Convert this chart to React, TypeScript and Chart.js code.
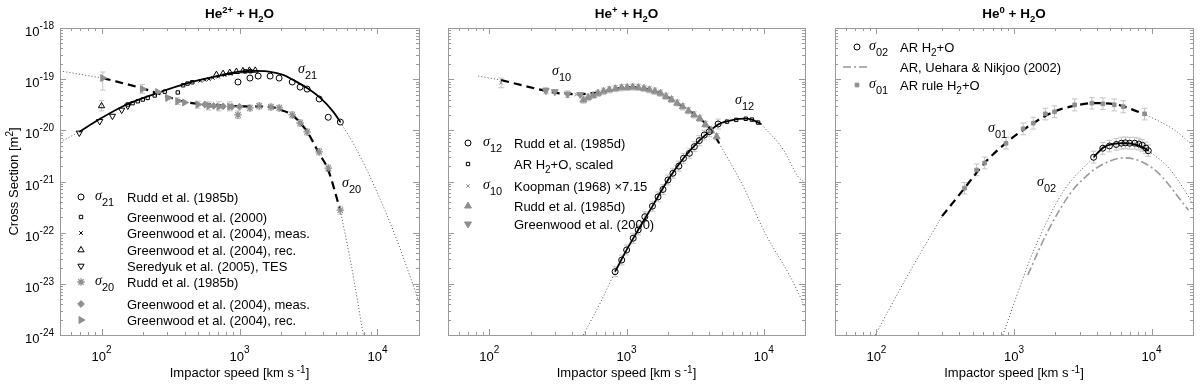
import React, { useEffect, useRef } from 'react';
import { Chart, registerables } from 'chart.js';
import { drawPoint } from 'chart.js/helpers';

Chart.register(...registerables);

type P = [number, number];
type E = [number, number, number];

// ---------------- axes ----------------
const X_MIN = 50;
const X_MAX = 20000;
const Y_MIN = 1e-24;
const Y_MAX = 1e-18;
const xDecades = [100, 1000, 10000];
const xDecadeExp = ['2', '3', '4'];
const yDecades = [1e-18, 1e-19, 1e-20, 1e-21, 1e-22, 1e-23, 1e-24];
const yDecadeExp = ['-18', '-19', '-20', '-21', '-22', '-23', '-24'];
const minorMult = [2, 3, 4, 5, 6, 7, 8, 9];

// ---------------- panel 1 : He2+ + H2O ----------------
const p1S21Fit: P[] = [[69, 9.3e-21], [97, 1.66e-20], [152, 3.2e-20], [255, 5.4e-20], [420, 8.4e-20], [663, 1.12e-19], [1000, 1.4e-19], [1300, 1.45e-19], [1585, 1.42e-19], [2075, 1.21e-19], [2460, 9.6e-20], [3090, 6.7e-20], [3850, 4.3e-20], [4790, 2.3e-20], [5380, 1.45e-20]];
const p1S21DotL: P[] = [[50, 5.9e-21], [69, 9.3e-21]];
const p1S21DotR: P[] = [[5380, 1.45e-20], [7000, 4.4e-21], [9500, 8.1e-22], [13500, 8.5e-23], [20000, 4.5e-24]];
const p1S20Fit: P[] = [[102, 1.05e-19], [198, 6.6e-20], [255, 5.3e-20], [400, 3.6e-20], [663, 3.15e-20], [1045, 2.95e-20], [1300, 2.95e-20], [1730, 2.85e-20], [2000, 2.5e-20], [2400, 2.0e-20], [3100, 9.3e-21], [3720, 3.8e-21], [4400, 1.66e-21], [5380, 2.7e-22]];
const p1S20DotL: P[] = [[50, 1.45e-19], [102, 1.05e-19]];
const p1S20DotR: P[] = [[5380, 2.7e-22], [6500, 2.1e-23], [7900, 1e-24]];

const p1Rudd21: P[] = [[975, 8.8e-20], [1190, 1.05e-19], [1365, 1.15e-19], [1667, 1.15e-19], [1938, 1.05e-19], [2410, 8.8e-20], [2750, 7.0e-20], [3090, 6.4e-20], [3780, 4.1e-20], [4400, 1.8e-20], [5380, 1.45e-20]];
const p1Gw2000: P[] = [[155, 3.2e-20], [168, 3.4e-20], [183, 3.7e-20], [199, 4.0e-20], [216, 4.3e-20], [243, 4.8e-20], [287, 5.7e-20], [357, 5.5e-20], [390, 7.6e-20], [420, 8.2e-20], [455, 8.7e-20], [1100, 1.42e-19], [1200, 1.43e-19]];
const p1Gw2004Meas: P[] = [[520, 9.3e-20], [560, 9.7e-20], [600, 1.01e-19], [640, 1.06e-19], [700, 1.12e-19], [780, 1.2e-19], [860, 1.27e-19]];
const p1Gw2004Rec: P[] = [[100, 3.0e-20], [680, 1.22e-19], [760, 1.28e-19], [850, 1.34e-19], [950, 1.4e-19], [1060, 1.45e-19], [1180, 1.48e-19], [1300, 1.48e-19]];
const p1SeredyukTES: P[] = [[69, 8.9e-21], [97, 1.5e-20], [120, 1.9e-20], [140, 2.5e-20], [155, 3.0e-20]];
const p1Rudd20: P[] = [[975, 2.0e-20], [1190, 2.74e-20], [1390, 3.0e-20], [1690, 2.86e-20], [1940, 2.74e-20], [2410, 2.0e-20], [2750, 1.39e-20], [3090, 9.3e-21], [3780, 3.8e-21], [4400, 1.83e-21], [5380, 2.75e-22]];
const p1Gw2004Meas20: P[] = [[560, 3.2e-20], [650, 3.0e-20], [760, 2.95e-20], [880, 2.9e-20], [1000, 2.9e-20]];
const p1Gw2004Rec20: P[] = [[102, 1.05e-19], [198, 6.4e-20], [255, 5.6e-20], [302, 4.3e-20], [357, 3.7e-20], [400, 3.5e-20], [500, 3.2e-20], [600, 3.0e-20], [710, 2.9e-20], [850, 2.9e-20]];
const p1Err: E[] = [[100, 2.4e-20, 3.8e-20], [102, 6.1e-20, 1.38e-19], [198, 5.3e-20, 7.9e-20], [357, 3.2e-20, 4.3e-20], [500, 2.7e-20, 3.7e-20], [600, 2.5e-20, 3.6e-20], [710, 2.4e-20, 3.6e-20], [850, 2.4e-20, 3.6e-20], [975, 1.7e-20, 2.4e-20], [1190, 2.4e-20, 3.1e-20], [1390, 2.6e-20, 3.4e-20], [1690, 2.5e-20, 3.25e-20], [1940, 2.4e-20, 3.1e-20], [2410, 1.75e-20, 2.3e-20], [2750, 1.2e-20, 1.6e-20], [3090, 8.1e-21, 1.07e-20], [3780, 3.3e-21, 4.4e-21], [4400, 1.58e-21, 2.1e-21], [5380, 2.3e-22, 3.3e-22]];

// ---------------- panel 2 : He+ + H2O ----------------
const p2S12Fit: P[] = [[826, 1.73e-23], [1002, 4.6e-23], [1216, 1.13e-22], [1546, 3.3e-22], [2005, 1.07e-21], [2601, 2.84e-21], [3394, 6.3e-21], [4008, 9.4e-21], [4654, 1.3e-20], [5400, 1.5e-20], [6600, 1.68e-20], [7400, 1.7e-20], [8200, 1.62e-20], [9100, 1.42e-20], [9600, 1.32e-20]];
const p2S12DotL: P[] = [[485, 1e-24], [645, 4.3e-24], [826, 1.73e-23]];
const p2S12DotR: P[] = [[9600, 1.32e-20], [13900, 4.2e-21], [17800, 1.25e-21], [20000, 9.5e-22]];
const p2S10Fit: P[] = [[122, 9.6e-20], [258, 5.9e-20], [305, 5.4e-20], [460, 5.1e-20], [643, 5.6e-20], [850, 6.5e-20], [1110, 7.0e-20], [1400, 6.5e-20], [1740, 5.4e-20], [2100, 4.1e-20], [2560, 2.9e-20], [3400, 1.74e-20], [4150, 1.02e-20], [4730, 5.6e-21]];
const p2S10DotL: P[] = [[83, 1.15e-19], [122, 9.6e-20]];
const p2S10DotR: P[] = [[4730, 5.6e-21], [6900, 9.3e-22], [10200, 1e-22], [15700, 1.35e-23], [17900, 6.6e-24], [20000, 3.5e-24]];

const p2Rudd12: P[] = [[826, 1.73e-23], [923, 2.92e-23], [1002, 4.59e-23], [1119, 7.8e-23], [1216, 1.13e-22], [1360, 2.05e-22], [1546, 3.3e-22], [1698, 5.0e-22], [1845, 7.0e-22], [2005, 1.07e-21], [2178, 1.45e-21], [2406, 2.0e-21], [2601, 2.84e-21], [2873, 3.56e-21], [3124, 4.8e-21], [3394, 6.3e-21], [3688, 8.1e-21], [4008, 9.4e-21], [4654, 1.33e-20]];
const p2ARScaled: P[] = [[5400, 1.48e-20], [6300, 1.6e-20], [7400, 1.68e-20], [8200, 1.62e-20], [9100, 1.42e-20]];
const p2Koopman: P[] = [[122, 8.5e-20], [260, 5.9e-20], [375, 5.2e-20], [430, 5.0e-20]];
const p2Rudd10: P[] = [[485, 3.9e-20], [525, 4.4e-20], [570, 4.8e-20], [620, 5.3e-20], [680, 5.8e-20], [750, 6.2e-20], [830, 6.5e-20], [920, 6.8e-20], [1010, 6.9e-20], [1110, 7.0e-20], [1220, 6.9e-20], [1340, 6.6e-20], [1470, 6.2e-20], [1610, 5.8e-20], [1770, 5.3e-20], [1940, 4.6e-20], [2130, 4.0e-20], [2340, 3.4e-20], [2570, 2.9e-20], [2830, 2.4e-20], [3110, 2.0e-20], [3420, 1.7e-20], [3760, 1.3e-20], [4130, 1.0e-20], [4540, 7.5e-21]];
const p2Gw2000: P[] = [[258, 6.0e-20], [300, 5.7e-20], [372, 5.1e-20], [460, 5.0e-20]];
const p2Err: E[] = [[826, 1.38e-23, 2.16e-23], [923, 2.34e-23, 3.65e-23], [1002, 3.67e-23, 5.74e-23], [1119, 6.2e-23, 9.75e-23], [1216, 9.0e-23, 1.41e-22], [1360, 1.64e-22, 2.56e-22], [1546, 2.64e-22, 4.1e-22], [1698, 4.0e-22, 6.25e-22], [1845, 5.6e-22, 8.75e-22], [2005, 8.6e-22, 1.34e-21], [2178, 1.16e-21, 1.81e-21], [2406, 1.6e-21, 2.5e-21], [2601, 2.27e-21, 3.55e-21], [2873, 2.85e-21, 4.45e-21], [3124, 3.84e-21, 6.0e-21], [3394, 5.0e-21, 7.9e-21], [3688, 6.5e-21, 1.01e-20], [4008, 7.5e-21, 1.18e-20], [4654, 1.06e-20, 1.66e-20],
  [122, 6.8e-20, 1.05e-19], [258, 5.2e-20, 6.9e-20], [372, 4.4e-20, 5.9e-20],
  [485, 3.4e-20, 4.5e-20], [525, 3.8e-20, 5.1e-20], [570, 4.2e-20, 5.5e-20], [620, 4.6e-20, 6.1e-20], [680, 5.0e-20, 6.7e-20], [750, 5.4e-20, 7.1e-20], [830, 5.7e-20, 7.5e-20], [920, 5.9e-20, 7.8e-20], [1010, 6.0e-20, 7.9e-20], [1110, 6.1e-20, 8.0e-20], [1220, 6.0e-20, 7.9e-20], [1340, 5.7e-20, 7.6e-20], [1470, 5.4e-20, 7.1e-20], [1610, 5.0e-20, 6.7e-20], [1770, 4.6e-20, 6.1e-20], [1940, 4.0e-20, 5.3e-20], [2130, 3.5e-20, 4.6e-20], [2340, 3.0e-20, 3.9e-20], [2570, 2.5e-20, 3.3e-20], [2830, 2.1e-20, 2.8e-20], [3110, 1.74e-20, 2.3e-20], [3420, 1.48e-20, 1.96e-20], [3760, 1.13e-20, 1.5e-20], [4130, 8.7e-21, 1.15e-20], [4540, 6.5e-21, 8.6e-21]];

// ---------------- panel 3 : He0 + H2O ----------------
const p3S01Fit: P[] = [[300, 2.1e-22], [437, 7.4e-22], [612, 2.3e-21], [890, 5.9e-21], [1380, 1.38e-20], [1937, 2.3e-20], [2717, 3.0e-20], [3740, 3.4e-20], [5350, 3.25e-20], [9180, 2.0e-20]];
const p3S01DotL: P[] = [[98, 1e-24], [172, 1.6e-23], [300, 2.1e-22]];
const p3S01DotR: P[] = [[9180, 2.0e-20], [14800, 1.0e-20], [20000, 5e-21]];
const p3S02Fit: P[] = [[3800, 3.0e-21], [4510, 4.7e-21], [6300, 5.6e-21], [8000, 5.1e-21], [9500, 4.0e-21]];
const p3S02DotL: P[] = [[830, 1e-24], [1165, 1.3e-23], [1380, 4.3e-23], [2290, 6.5e-22], [3800, 3.0e-21]];
const p3S02DotR: P[] = [[9500, 4.0e-21], [13300, 1.85e-21], [18600, 5.0e-22], [20000, 3.5e-22]];
const p3Uehara: P[] = [[1260, 1.5e-23], [1740, 1.0e-22], [2570, 5.9e-22], [3220, 1.15e-21], [4060, 1.9e-21], [6300, 2.9e-21], [10500, 1.7e-21], [18600, 2.75e-22]];
const p3ARRule01: P[] = [[437, 7.4e-22], [535, 1.68e-21], [612, 2.3e-21], [875, 5.6e-21], [1165, 1.07e-20], [1380, 1.38e-20], [1690, 2.1e-20], [1970, 2.3e-20], [2760, 3.15e-20], [3680, 3.4e-20], [4430, 3.3e-20], [5350, 3.15e-20], [6220, 2.9e-20], [8890, 2.1e-20]];
const p3AR02: P[] = [[3790, 2.97e-21], [4420, 4.47e-21], [4940, 4.95e-21], [5540, 5.3e-21], [6030, 5.6e-21], [6450, 5.7e-21], [6930, 5.6e-21], [7540, 5.6e-21], [8070, 5.4e-21], [8550, 5.1e-21], [9080, 4.5e-21], [9460, 4.0e-21]];
const p3Err: E[] = [[437, 5.7e-22, 9.6e-22], [535, 1.3e-21, 2.2e-21], [612, 1.77e-21, 3.0e-21], [875, 4.3e-21, 7.3e-21], [1165, 8.2e-21, 1.39e-20], [1380, 1.06e-20, 1.8e-20], [1690, 1.6e-20, 2.7e-20], [1970, 1.77e-20, 3.0e-20], [2760, 2.4e-20, 4.1e-20], [3680, 2.6e-20, 4.4e-20], [4430, 2.55e-20, 4.3e-20], [5350, 2.4e-20, 4.1e-20], [6220, 2.2e-20, 3.8e-20], [8890, 1.6e-20, 2.7e-20],
  [3790, 2.3e-21, 3.9e-21], [4420, 3.4e-21, 5.8e-21], [4940, 3.8e-21, 6.4e-21], [5540, 4.1e-21, 6.9e-21], [6030, 4.3e-21, 7.3e-21], [6450, 4.4e-21, 7.4e-21], [6930, 4.3e-21, 7.3e-21], [7540, 4.3e-21, 7.3e-21], [8070, 4.15e-21, 7.0e-21], [8550, 3.9e-21, 6.6e-21], [9080, 3.5e-21, 5.9e-21], [9460, 3.1e-21, 5.2e-21]];

// ---------------- styling helpers ----------------
const SANS = '"Liberation Sans", Arial, Helvetica, sans-serif';
const SERIF = '"Liberation Serif", "DejaVu Serif", serif';
const GRAY = '#8f8f8f';
const ERR = '#c4c4c4';
const DOT = '#555555';

const toXY = (a: P[]) => a.map(([x, y]) => ({ x, y }));
const toErr = (a: E[]) => a.flatMap(([x, lo, hi]) => [{ x, y: lo }, { x, y: hi }, { x, y: null as any }]);

type Mk = { style: string; r: number; fill: string; stroke: string; rot?: number; bw?: number };
const mkOpenCircle: Mk = { style: 'circle', r: 3, fill: 'rgba(0,0,0,0)', stroke: '#000', bw: 1 };
const mkOpenSquare: Mk = { style: 'rect', r: 2.4, fill: 'rgba(0,0,0,0)', stroke: '#000', bw: 1 };
const mkX: Mk = { style: 'crossRot', r: 2.5, fill: '#000', stroke: '#000', bw: 1 };
const mkTriUp: Mk = { style: 'triangle', r: 3.6, fill: 'rgba(0,0,0,0)', stroke: '#000', bw: 1 };
const mkTriDown: Mk = { style: 'triangle', r: 3.6, fill: 'rgba(0,0,0,0)', stroke: '#000', bw: 1, rot: 180 };
const mkGrayStar: Mk = { style: 'star', r: 3.8, fill: GRAY, stroke: GRAY, bw: 1.3 };
const mkGrayDiamond: Mk = { style: 'rectRot', r: 3.4, fill: GRAY, stroke: GRAY, bw: 1 };
const mkGrayTriRight: Mk = { style: 'triangle', r: 4, fill: GRAY, stroke: GRAY, bw: 1, rot: 90 };
const mkGrayTriUp: Mk = { style: 'triangle', r: 4, fill: GRAY, stroke: GRAY, bw: 1 };
const mkGrayTriDown: Mk = { style: 'triangle', r: 4, fill: GRAY, stroke: GRAY, bw: 1, rot: 180 };
const mkGrayX: Mk = { style: 'crossRot', r: 2.5, fill: GRAY, stroke: GRAY, bw: 1 };
const mkGraySquare: Mk = { style: 'rect', r: 2.6, fill: GRAY, stroke: GRAY, bw: 1 };

const markers = (data: P[], m: Mk) => ({
  data: toXY(data), showLine: false, order: 0,
  pointStyle: m.style, pointRadius: m.r, pointHoverRadius: m.r, pointRotation: m.rot || 0,
  pointBackgroundColor: m.fill, pointBorderColor: m.stroke, pointBorderWidth: m.bw ?? 1,
});
const curve = (data: P[], color: string, width: number, dash: number[]) => ({
  data: toXY(data), showLine: true, pointRadius: 0, pointHoverRadius: 0, borderColor: color,
  borderWidth: width, borderDash: dash, cubicInterpolationMode: 'monotone', fill: false, order: 1,
});
const errorBars = (data: E[]) => ({
  data: toErr(data), showLine: true, spanGaps: false, borderColor: ERR, borderWidth: 1, order: 2,
  pointStyle: 'line', pointRadius: 2.8, pointHoverRadius: 2.8, pointBorderColor: ERR, pointBorderWidth: 1,
});
const SOLID = (d: P[]) => curve(d, '#000', 1.8, []);
const DASHED = (d: P[]) => curve(d, '#000', 2.2, [8, 5]);
const DOTTED = (d: P[]) => curve(d, DOT, 1, [1, 2.2]);

// ---------------- rich text ----------------
type RSeg = { t: string; font: string; dy: number };
const N = (t: string, size = 13, bold = false): RSeg => ({ t, font: `${bold ? 'bold ' : ''}${size}px ${SANS}`, dy: 0 });
const SUP = (t: string, size = 10, dy = -6, bold = false): RSeg => ({ t, font: `${bold ? 'bold ' : ''}${size}px ${SANS}`, dy });
const SUB = (t: string, size = 10, dy = 4, bold = false): RSeg => ({ t, font: `${bold ? 'bold ' : ''}${size}px ${SANS}`, dy });
const SIG = (dy = 0, size = 14): RSeg => ({ t: 'σ', font: `italic ${size}px ${SERIF}`, dy });

function rich(ctx: CanvasRenderingContext2D, segs: RSeg[], x: number, y: number, align: 'left' | 'center' | 'right') {
  let w = 0;
  for (const s of segs) { ctx.font = s.font; w += ctx.measureText(s.t).width; }
  let cx = align === 'left' ? x : align === 'center' ? x - w / 2 : x - w;
  ctx.textAlign = 'left';
  ctx.textBaseline = 'alphabetic';
  for (const s of segs) {
    ctx.font = s.font;
    ctx.fillText(s.t, cx, y + s.dy);
    cx += ctx.measureText(s.t).width;
  }
}

type LegendItem = { y: number; mk?: Mk; dashDot?: boolean; sig?: string; text: RSeg[] };
type PanelDef = {
  left: number; right: number;
  title: RSeg[];
  yLabels: boolean;
  legend: LegendItem[];
  legendX: { mk: number; sig: number; text: number };
  notes: { x: number; y: number; sub: string }[];
  datasets: any[];
};

const TOP = 28;
const BOTTOM = 335;

const titleSegs = (ion: string) => [N('He', 13.5, true), SUP(ion, 9.5, -5, true), N(' + H', 13.5, true), SUB('2', 9.5, 3.5, true), N('O', 13.5, true)];
const H2O = (pre: string, post: string) => [N(pre), SUB('2', 10, 4), N(post)];

const panels: PanelDef[] = [
  {
    left: 60, right: 419, title: titleSegs('2+'), yLabels: true,
    legendX: { mk: 81, sig: 95, text: 127 },
    legend: [
      { y: 197, mk: mkOpenCircle, sig: '21', text: [N('Rudd et al. (1985b)')] },
      { y: 217, mk: mkOpenSquare, text: [N('Greenwood et al. (2000)')] },
      { y: 233, mk: mkX, text: [N('Greenwood et al. (2004), meas.')] },
      { y: 250, mk: mkTriUp, text: [N('Greenwood et al. (2004), rec.')] },
      { y: 266, mk: mkTriDown, text: [N('Seredyuk et al. (2005), TES')] },
      { y: 282, mk: mkGrayStar, sig: '20', text: [N('Rudd et al. (1985b)')] },
      { y: 304, mk: mkGrayDiamond, text: [N('Greenwood et al. (2004), meas.')] },
      { y: 320, mk: mkGrayTriRight, text: [N('Greenwood et al. (2004), rec.')] },
    ],
    notes: [{ x: 298, y: 73, sub: '21' }, { x: 342, y: 187, sub: '20' }],
    datasets: [
      markers(p1Rudd21, mkOpenCircle), markers(p1Gw2000, mkOpenSquare), markers(p1Gw2004Meas, mkX),
      markers(p1Gw2004Rec, mkTriUp), markers(p1SeredyukTES, mkTriDown), markers(p1Rudd20, mkGrayStar),
      markers(p1Gw2004Meas20, mkGrayDiamond), markers(p1Gw2004Rec20, mkGrayTriRight),
      SOLID(p1S21Fit), DASHED(p1S20Fit), DOTTED(p1S21DotL), DOTTED(p1S21DotR), DOTTED(p1S20DotL), DOTTED(p1S20DotR),
      errorBars(p1Err),
    ],
  },
  {
    left: 448, right: 805, title: titleSegs('+'), yLabels: false,
    legendX: { mk: 468, sig: 483, text: 514 },
    legend: [
      { y: 143, mk: mkOpenCircle, sig: '12', text: [N('Rudd et al. (1985d)')] },
      { y: 164, mk: mkOpenSquare, text: H2O('AR H', '+O, scaled') },
      { y: 186, mk: mkGrayX, sig: '10', text: [N('Koopman (1968) ×7.15')] },
      { y: 206, mk: mkGrayTriUp, text: [N('Rudd et al. (1985d)')] },
      { y: 224, mk: mkGrayTriDown, text: [N('Greenwood et al. (2000)')] },
    ],
    notes: [{ x: 552, y: 75, sub: '10' }, { x: 735, y: 104, sub: '12' }],
    datasets: [
      markers(p2Rudd12, mkOpenCircle), markers(p2ARScaled, mkOpenSquare), markers(p2Koopman, mkGrayX),
      markers(p2Rudd10, mkGrayTriUp), markers(p2Gw2000, mkGrayTriDown),
      SOLID(p2S12Fit), DASHED(p2S10Fit), DOTTED(p2S12DotL), DOTTED(p2S12DotR), DOTTED(p2S10DotL), DOTTED(p2S10DotR),
      errorBars(p2Err),
    ],
  },
  {
    left: 835, right: 1193, title: titleSegs('0'), yLabels: false,
    legendX: { mk: 857, sig: 869, text: 900 },
    legend: [
      { y: 47, mk: mkOpenCircle, sig: '02', text: H2O('AR H', '+O') },
      { y: 67, dashDot: true, text: [N('AR, Uehara & Nikjoo (2002)')] },
      { y: 85, mk: mkGraySquare, sig: '01', text: H2O('AR rule H', '+O') },
    ],
    notes: [{ x: 988, y: 132, sub: '01' }, { x: 1037, y: 186, sub: '02' }],
    datasets: [
      markers(p3AR02, mkOpenCircle), markers(p3ARRule01, mkGraySquare),
      SOLID(p3S02Fit), DASHED(p3S01Fit), curve(p3Uehara, '#9a9a9a', 1.6, [8, 3, 2, 3]),
      DOTTED(p3S01DotL), DOTTED(p3S01DotR), DOTTED(p3S02DotL), DOTTED(p3S02DotR),
      errorBars(p3Err),
    ],
  },
];

function decorPlugin(p: PanelDef) {
  return {
    id: 'decor',
    afterDraw(chart: any) {
      const ctx = chart.ctx as CanvasRenderingContext2D;
      const { left, right, top, bottom } = chart.chartArea;
      const xs = chart.scales.x;
      const ys = chart.scales.y;
      ctx.save();
      ctx.strokeStyle = '#9a9a9a';
      ctx.lineWidth = 1;
      ctx.beginPath();
      for (let e = 1; e <= 4; e++) {
        for (const m of [1, ...minorMult]) {
          const v = Number(`${m}e${e}`);
          if (v < X_MIN * 0.999 || v > X_MAX * 1.001) continue;
          const px = Math.round(xs.getPixelForValue(v)) + 0.5;
          const len = m === 1 ? 6 : 3;
          ctx.moveTo(px, bottom); ctx.lineTo(px, bottom - len);
          ctx.moveTo(px, top); ctx.lineTo(px, top + len);
        }
      }
      for (let e = -24; e <= -18; e++) {
        for (const m of [1, ...minorMult]) {
          const v = Number(`${m}e${e}`);
          if (v < Y_MIN * 0.999 || v > Y_MAX * 1.001) continue;
          const py = Math.round(ys.getPixelForValue(v)) + 0.5;
          const len = m === 1 ? 6 : 3;
          ctx.moveTo(left, py); ctx.lineTo(left + len, py);
          ctx.moveTo(right, py); ctx.lineTo(right - len, py);
        }
      }
      ctx.stroke();
      ctx.strokeRect(left + 0.5, top + 0.5, right - left, bottom - top);

      ctx.fillStyle = '#000';
      // x tick labels
      xDecades.forEach((v, i) => {
        const px = xs.getPixelForValue(v);
        rich(ctx, [N('10'), SUP(xDecadeExp[i], 10, -7.5)], px, 360.5, 'center');
      });
      if (p.yLabels) {
        yDecades.forEach((v, i) => {
          const py = ys.getPixelForValue(v);
          rich(ctx, [N('10'), SUP(yDecadeExp[i], 10, -7)], 54, py + 8, 'right');
        });
        ctx.save();
        ctx.translate(18, (top + bottom) / 2);
        ctx.rotate(-Math.PI / 2);
        rich(ctx, [N('Cross Section [m'), SUP('2', 10, -5), N(']')], 0, 0, 'center');
        ctx.restore();
      }
      // x title
      rich(ctx, [N('Impactor speed [km s'), SUP(' -1', 10, -4), N(']')], (left + right) / 2, 377, 'center');
      // title
      rich(ctx, p.title, (left + right) / 2, 18, 'center');

      // legend
      for (const it of p.legend) {
        const base = it.y + 4.7;
        if (it.mk) {
          ctx.fillStyle = it.mk.fill;
          ctx.strokeStyle = it.mk.stroke;
          ctx.lineWidth = it.mk.bw ?? 1;
          drawPoint(ctx, { pointStyle: it.mk.style as any, radius: it.mk.r, rotation: it.mk.rot || 0, borderWidth: it.mk.bw ?? 1 } as any, p.legendX.mk, it.y);
        }
        if (it.dashDot) {
          ctx.save();
          ctx.strokeStyle = '#9a9a9a';
          ctx.lineWidth = 1.6;
          ctx.setLineDash([8, 3, 2, 3]);
          ctx.beginPath();
          ctx.moveTo(843, it.y); ctx.lineTo(869, it.y);
          ctx.stroke();
          ctx.restore();
        }
        ctx.fillStyle = '#000';
        if (it.sig) rich(ctx, [SIG(-1.5), SUB(it.sig, 11, 4)], p.legendX.sig, base, 'left');
        rich(ctx, it.text, p.legendX.text, base, 'left');
      }
      // in-plot labels
      for (const n of p.notes) rich(ctx, [SIG(0), SUB(n.sub, 11, 6)], n.x, n.y, 'left');
      ctx.restore();
    },
  };
}

function buildConfig(p: PanelDef): any {
  return {
    type: 'scatter',
    data: { datasets: p.datasets },
    options: {
      animation: false,
      responsive: false,
      maintainAspectRatio: false,
      events: [],
      layout: { padding: { left: p.left, right: 1200 - p.right, top: TOP, bottom: 387 - BOTTOM } },
      plugins: { legend: { display: false }, tooltip: { enabled: false }, title: { display: false } },
      scales: {
        x: { type: 'logarithmic', min: X_MIN, max: X_MAX, display: false },
        y: { type: 'logarithmic', min: Y_MIN, max: Y_MAX, display: false },
      },
    },
    plugins: [decorPlugin(p)],
  };
}

export default function App() {
  const r1 = useRef<HTMLCanvasElement>(null);
  const r2 = useRef<HTMLCanvasElement>(null);
  const r3 = useRef<HTMLCanvasElement>(null);
  useEffect(() => {
    const refs = [r1, r2, r3];
    const charts = refs.map((r, i) => new Chart(r.current as HTMLCanvasElement, buildConfig(panels[i])));
    return () => charts.forEach((c) => c.destroy());
  }, []);
  const cs: React.CSSProperties = { position: 'absolute', left: 0, top: 0, width: 1200, height: 387 };
  return (
    <div style={{ position: 'absolute', left: 0, top: 0, width: 1200, height: 387, background: '#fff' }}>
      <canvas ref={r1} width={1200} height={387} style={cs} />
      <canvas ref={r2} width={1200} height={387} style={cs} />
      <canvas ref={r3} width={1200} height={387} style={cs} />
    </div>
  );
}
